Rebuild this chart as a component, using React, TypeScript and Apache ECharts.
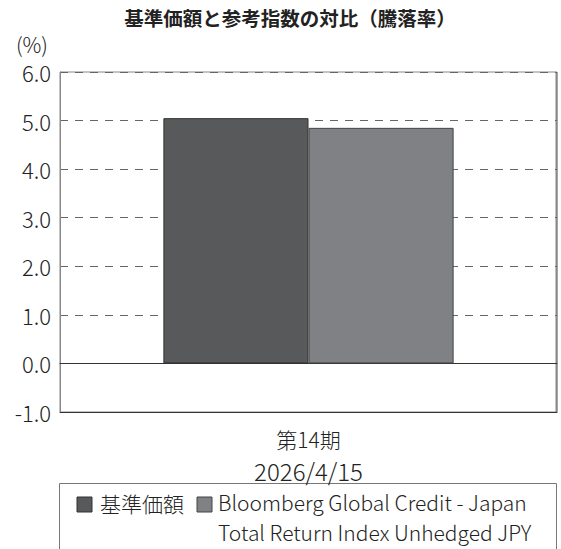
import React, { useEffect, useRef } from "react";
import * as echarts from "echarts";

const categories = ["第14期\n2026/4/15"];
const seriesNames = ["基準価額", "Bloomberg Global Credit - Japan\nTotal Return Index Unhedged JPY"];
const fundValues = [5.05];
const indexValues = [4.85];
const yTicks = { min: -1, max: 6, interval: 1 };

const FONT = "'Noto Sans CJK JP', 'Noto Sans', sans-serif";

export default function App() {
  const ref = useRef<HTMLDivElement>(null);
  useEffect(() => {
    const chart = echarts.init(ref.current!, null, { renderer: "svg" });
    chart.setOption({
      animation: false,
      textStyle: { fontFamily: FONT, fontWeight: 300 },
      title: {
        text: "基準価額と参考指数の対比（騰落率）",
        left: 285,
        textAlign: "center",
        top: 3,
        textStyle: { fontSize: 19.5, fontWeight: "bold", color: "#222", fontFamily: FONT },
      },
      grid: {
        left: 60,
        right: 4,
        top: 72,
        bottom: 137,
        show: true,
        borderColor: "#888",
        borderWidth: 1,
      },
      xAxis: [
        {
          type: "category",
          data: categories,
          position: "bottom",
          axisLine: { onZero: false, lineStyle: { color: "#333", width: 1 } },
          axisTick: { show: false },
          axisLabel: {
            margin: 12,
            formatter: (v: string) => {
              const [a, b] = v.split("\n");
              return `{a|${a}}\n{b|${b}}`;
            },
            rich: {
              a: { fontSize: 21, fontWeight: 300, color: "#222", lineHeight: 30, fontFamily: FONT },
              b: { fontSize: 24, fontWeight: 300, color: "#222", lineHeight: 32, fontFamily: FONT },
            },
          },
        },
        {
          type: "category",
          data: categories,
          position: "bottom",
          axisLine: { onZero: true, lineStyle: { color: "#333", width: 1 } },
          axisTick: { show: false },
          axisLabel: { show: false },
        },
      ],
      yAxis: {
        type: "value",
        min: yTicks.min,
        max: yTicks.max,
        interval: yTicks.interval,
        name: "(%)",
        nameLocation: "end",
        nameGap: 18,
        nameTextStyle: {
          fontSize: 21,
          fontWeight: 300,
          color: "#222",
          align: "right",
          padding: [0, 12, 0, 0],
          fontFamily: FONT,
        },
        axisLine: { show: true, lineStyle: { color: "#888" } },
        axisTick: { show: false },
        axisLabel: {
          fontSize: 22,
          fontWeight: 300,
          color: "#222",
          margin: 9,
          fontFamily: FONT,
          formatter: (v: number) => v.toFixed(1),
        },
        splitLine: { show: true, lineStyle: { color: "#666", type: [8, 7], width: 1 } },
      },
      series: [
        {
          name: seriesNames[0],
          type: "bar",
          data: fundValues,
          barGap: "0%",
          barCategoryGap: "41.6%",
          itemStyle: { color: "#58595b", borderColor: "#333", borderWidth: 1 },
        },
        {
          name: seriesNames[1],
          type: "bar",
          data: indexValues,
          itemStyle: { color: "#808184", borderColor: "#444", borderWidth: 1 },
        },
      ],
      graphic: [
        {
          type: "line",
          shape: { x1: 556.5, y1: 72, x2: 556.5, y2: 412 },
          style: { stroke: "#888", lineWidth: 2 },
        },
        {
          type: "rect",
          shape: { x: 59.5, y: 483.5, width: 497, height: 80 },
          style: { fill: "#fff", stroke: "#777", lineWidth: 1 },
        },
        {
          type: "rect",
          shape: { x: 77, y: 497, width: 15, height: 15 },
          style: { fill: "#58595b", stroke: "#333", lineWidth: 1 },
        },
        {
          type: "text",
          x: 100,
          y: 503,
          style: {
            text: seriesNames[0],
            font: `300 21px ${FONT}`,
            fill: "#222",
            verticalAlign: "middle",
          },
        },
        {
          type: "rect",
          shape: { x: 197, y: 497, width: 15, height: 15 },
          style: { fill: "#808184", stroke: "#444", lineWidth: 1 },
        },
        {
          type: "text",
          x: 218,
          y: 487,
          style: {
            text: seriesNames[1],
            font: `300 21px ${FONT}`,
            fill: "#222",
            lineHeight: 30,
            verticalAlign: "top",
          },
        },
      ],
    });
    return () => chart.dispose();
  }, []);
  return <div ref={ref} style={{ width: 561, height: 549, position: "absolute", left: 0, top: 0 }} />;
}
